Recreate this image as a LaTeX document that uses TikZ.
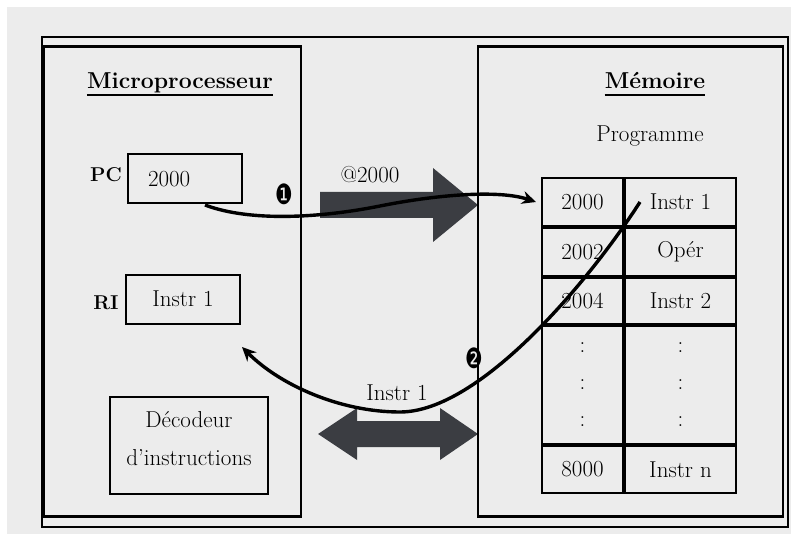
\documentclass[tikz,border=0pt]{standalone}
\usepackage{fontspec}
\usepackage{tikz}
\usetikzlibrary{arrows.meta}
\newfontfamily\dingfont{DejaVu Sans}
\definecolor{bg_grey}{RGB}{236,236,236}
\definecolor{bus_grey}{RGB}{59,61,66}
\tikzstyle{unit}=[draw=black,line width=2.4pt,inner sep=0pt]
\tikzstyle{reg}=[draw=black,line width=2pt,inner sep=0pt,
  minimum width=114pt,minimum height=49pt]
\tikzstyle{cell}=[draw=black,line width=2pt,inner sep=0pt,
  font=\fontsize{23}{37}\selectfont,align=center]
\tikzstyle{txt}=[font=\fontsize{23}{27}\selectfont,inner sep=0pt]
\tikzstyle{ttl}=[font=\fontsize{23}{27}\selectfont\bfseries,inner sep=0pt,anchor=base]
\tikzstyle{lbl}=[font=\fontsize{20}{24}\selectfont\bfseries,inner sep=0pt]
\tikzstyle{num}=[font=\dingfont\fontsize{28}{28}\selectfont,inner sep=0pt,xscale=0.7]
\tikzstyle{flow}=[line width=3.4pt,-{Stealth[length=14pt,width=13pt]}]

\begin{document}
\begin{tikzpicture}[x=1pt,y=-1pt]
    \useasboundingbox (0,0) rectangle (791,534);
    \fill[white] (0,0) rectangle (791,534);
    \fill[bg_grey] (7,7) rectangle (791,534);
    \draw[line width=1.4pt] (42,37) rectangle (788,527);

    % address bus and data bus
    \fill[bus_grey] (320,192) -- (433,192) -- (433,168) -- (478,205)
      -- (433,242) -- (433,218) -- (320,218) -- cycle;
    \fill[bus_grey] (318,434) -- (357,408) -- (357,421) -- (440,421)
      -- (440,408) -- (478,434) -- (440,460) -- (440,447) -- (357,447)
      -- (357,460) -- cycle;

    % processor side
    \node [style=unit,minimum width=257pt,minimum height=470pt] (cpu) at (172.5,281.5) {};
    \node [style=ttl] (cputitle) at (180,89) {Microprocesseur};
    \draw[line width=2.6pt] ([yshift=-6pt]cputitle.base west) -- ([yshift=-6pt]cputitle.base east);
    \node [style=lbl] (pclbl) at (106,175) {PC};
    \node [style=reg,font=\fontsize{23}{27}\selectfont,text width=74pt,
      inner xsep=20pt,align=left] (pc) at (185,179) {2000};
    \node [style=lbl] (rilbl) at (106,303) {RI};
    \node [style=reg,font=\fontsize{23}{27}\selectfont] (ri) at (183,299) {Instr 1};
    \node [draw=black,line width=2pt,minimum width=158pt,minimum height=97pt] (dec) at (189,445.5) {};
    \node [style=txt,font=\fontsize{23}{38}\selectfont,align=center] (dectext) at (189,439)
      {Décodeur\\d’instructions};

    % memory side
    \node [style=unit,minimum width=305pt,minimum height=470pt] (mem) at (630.5,281.5) {};
    \node [style=ttl] (memtitle) at (655,89) {Mémoire};
    \draw[line width=2.6pt] ([yshift=-6pt]memtitle.base west) -- ([yshift=-6pt]memtitle.base east);
    \node [style=txt] (prog) at (650,136) {Programme};

    \node [style=cell,minimum width=81pt,minimum height=48pt] (addr1) at (582.5,202) {2000};
    \node [style=cell,minimum width=111pt,minimum height=48pt] (val1) at (680.5,202) {Instr 1};
    \node [style=cell,minimum width=81pt,minimum height=48pt] (addr2) at (582.5,252) {2002};
    \node [style=cell,minimum width=111pt,minimum height=48pt] (val2) at (680.5,252) {Opér};
    \node [style=cell,minimum width=81pt,minimum height=46pt] (addr3) at (582.5,301) {2004};
    \node [style=cell,minimum width=111pt,minimum height=46pt] (val3) at (680.5,301) {Instr 2};
    \node [style=cell,minimum width=81pt,minimum height=118pt] (addr4) at (582.5,385) {:\\:\\:};
    \node [style=cell,minimum width=111pt,minimum height=118pt] (val4) at (680.5,385) {:\\:\\:};
    \node [style=cell,minimum width=81pt,minimum height=47pt] (addr5) at (582.5,469.5) {8000};
    \node [style=cell,minimum width=111pt,minimum height=47pt] (val5) at (680.5,469.5) {Instr n};

    % bus labels
    \node [style=txt] (adrlbl) at (370,175) {@2000};
    \node [style=txt] (datlbl) at (397,393) {Instr 1};

    % fetch cycle
    \coordinate (pcout) at (205,205);
    \coordinate (memout) at (640,202);
    \coordinate (riin) at (242,347);
    \draw[flow] (pcout) .. controls (250,222) and (320,218) .. (380,206)
      .. controls (440,194) and (500,190) .. ([xshift=-5pt]addr1.west);
    \draw[flow] (memout) .. controls (590,280) and (480,412) .. (400,412)
      .. controls (340,412) and (280,385) .. (riin);
    \node [style=num] (one) at (284,194) {❶};
    \node [style=num] (two) at (474,358) {❷};
\end{tikzpicture}
\end{document}
